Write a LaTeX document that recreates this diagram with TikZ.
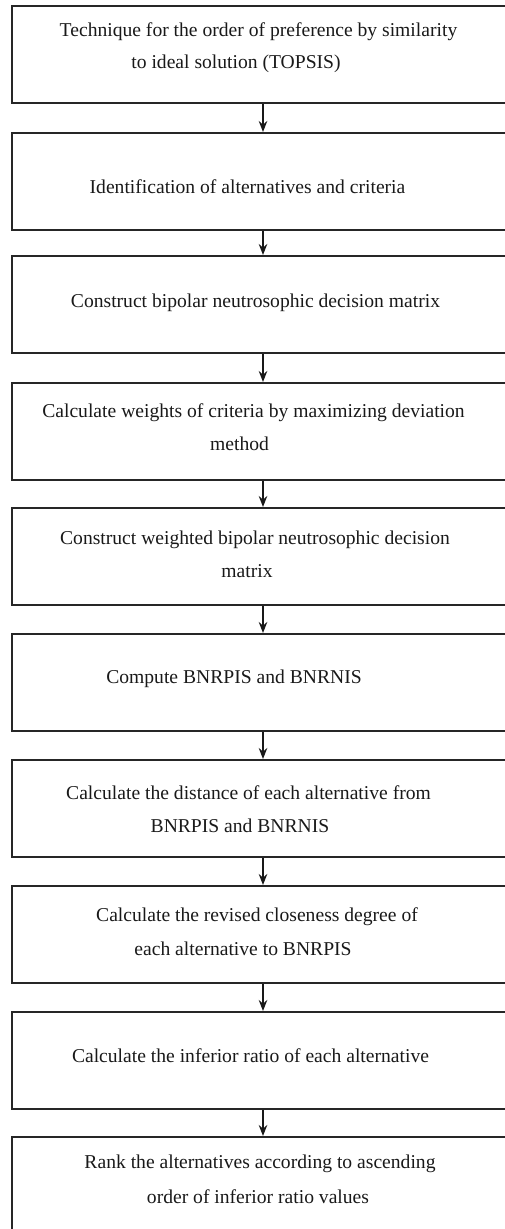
\documentclass[tikz,border=0pt]{standalone}
\usepackage{fontspec}
\setmainfont{Liberation Serif}
\usetikzlibrary{arrows.meta}
\definecolor{linec}{HTML}{262626}
\begin{document}
\begin{tikzpicture}[x=1pt,y=-1pt,
  stepbox/.style={draw=linec,line width=2.2pt,minimum width=530pt,minimum height=97pt,anchor=north west,inner sep=0pt},
  txt/.style={anchor=base,inner sep=0pt,font=\fontsize{19.6}{23}\selectfont,text=black!90},
  arr/.style={draw=black!90,line width=1.6pt,-{Stealth[length=11pt,width=8.5pt]}}]
\useasboundingbox (0,0) rectangle (505,1229);
\clip (0,0) rectangle (505,1229);
\coordinate (ax) at (263,0);
\node[stepbox] (b1) at (10.5,5) {};
\node[stepbox] (b2) at (11,132) {};
\node[stepbox] (b3) at (10.5,255) {};
\node[stepbox] (b4) at (11,382) {};
\node[stepbox] (b5) at (10.5,507) {};
\node[stepbox] (b6) at (11,633) {};
\node[stepbox] (b7) at (11,759) {};
\node[stepbox] (b8) at (11,885) {};
\node[stepbox] (b9) at (11,1011) {};
\node[stepbox] (b10) at (11,1136) {};
\foreach \a/\b in {b1/b2,b2/b3,b3/b4,b4/b5,b5/b6,b6/b7,b7/b8,b8/b9,b9/b10}
  \draw[arr] (\a.south -| ax) -- (\b.north -| ax);
\node[txt] (t1a) at (258.5,36) {Technique for the order of preference by similarity};
\node[txt] (t1b) at (236,68) {to ideal solution (TOPSIS)};
\node[txt] (t2) at (247.5,193) {Identification of alternatives and criteria};
\node[txt] (t3) at (255.5,307) {Construct bipolar neutrosophic decision matrix};
\node[txt] (t4a) at (253.5,417) {Calculate weights of criteria by maximizing deviation};
\node[txt] (t4b) at (239.5,450) {method};
\node[txt] (t5a) at (255,544) {Construct weighted bipolar neutrosophic decision};
\node[txt] (t5b) at (247,577) {matrix};
\node[txt] (t6) at (234,683) {Compute BNRPIS and BNRNIS};
\node[txt] (t7a) at (248.5,799) {Calculate the distance of each alternative from};
\node[txt] (t7b) at (240,832) {BNRPIS and BNRNIS};
\node[txt] (t8a) at (257,921) {Calculate the revised closeness degree of};
\node[txt] (t8b) at (243,955) {each alternative to BNRPIS};
\node[txt] (t9) at (250.5,1062) {Calculate the inferior ratio of each alternative};
\node[txt] (t10a) at (260,1168) {Rank the alternatives according to ascending};
\node[txt] (t10b) at (258,1203) {order of inferior ratio values};
\end{tikzpicture}
\end{document}
